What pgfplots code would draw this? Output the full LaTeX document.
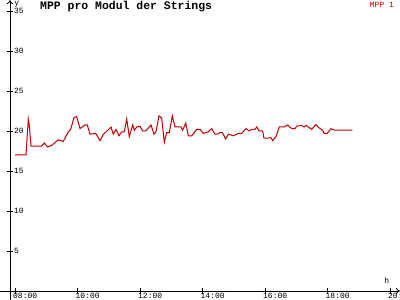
\documentclass[border=0pt]{standalone}
\usepackage{pgfplots}
\pgfplotsset{compat=1.18}
\usetikzlibrary{arrows.meta}
\usepackage{fontspec}
\setmainfont{Liberation Mono}
\setmonofont{Liberation Mono}
\definecolor{mppred}{RGB}{192,0,0}
\begin{document}
\begin{tikzpicture}
\begin{axis}[
  scale only axis, width=400bp, height=300bp,
  axis lines=middle,
  axis line style={line width=0.8bp, -{To[length=4bp,width=6bp]}},
  xmin=-0.32, xmax=12.48, ymin=-1.125, ymax=36.375,
  xtick={0.16,2.16,4.16,6.16,8.16,10.16,12.16},
  xticklabels={08:00,10:00,12:00,14:00,16:00,18:00,20:00},
  ytick={5,10,15,20,25,30,35},
  yticklabels={5,10,15,20,25,30,35},
  /pgf/number format/assume math mode=true,
  tick align=center, major tick length=6bp,
  tick style={black, line width=0.8bp},
  tick label style={font=\fontsize{8}{8}\selectfont},
  xticklabel style={anchor=north west, xshift=-3bp, yshift=2bp, inner sep=1bp},
  yticklabel style={anchor=west, xshift=6bp, inner sep=1bp},
  clip=false,
]
\coordinate (sw) at (rel axis cs:0,0);
\coordinate (ne) at (rel axis cs:1,1);
\addplot[mppred, line width=1bp, mark=none] table[x expr=\thisrowno{0}-7.84, y index=1] {
8.0 17.0
8.352 17.0
8.426 21.5
8.458 20.75
8.512 18.1
8.854 18.1
8.938 18.5
9.046 18.0
9.174 18.2
9.386 18.9
9.546 18.7
9.706 19.9
9.782 20.2
9.888 21.7
9.974 21.8
10.08 20.3
10.24 20.75
10.314 20.75
10.40 19.6
10.582 19.7
10.72 18.8
10.826 19.6
10.944 20.0
11.072 20.5
11.146 19.6
11.232 20.2
11.328 19.4
11.414 19.9
11.498 19.9
11.574 21.5
11.658 19.3
11.766 20.75
11.818 20.1
11.894 20.5
12.0 20.6
12.086 20.0
12.182 20.0
12.352 20.75
12.448 19.6
12.512 19.9
12.608 21.9
12.694 21.6
12.778 18.6
12.854 19.8
12.938 19.8
13.034 21.9
13.12 20.5
13.312 20.5
13.366 20.1
13.462 21.0
13.546 19.4
13.654 19.4
13.814 20.2
13.92 20.2
14.026 19.7
14.186 19.9
14.294 20.3
14.40 19.6
14.474 19.6
14.56 19.8
14.634 19.8
14.742 19.0
14.826 19.6
14.912 19.5
14.986 19.4
15.146 19.7
15.254 19.7
15.392 20.3
15.488 20.0
15.574 20.2
15.68 20.2
15.734 20.5
15.818 20.0
15.926 20.0
15.968 19.1
16.106 19.1
16.182 19.2
16.246 18.8
16.352 19.3
16.458 20.5
16.618 20.5
16.726 20.75
16.854 20.3
16.96 20.3
17.014 20.6
17.174 20.7
17.248 20.5
17.312 20.7
17.386 20.5
17.494 20.2
17.622 20.8
17.728 20.4
17.846 20.1
17.888 19.7
17.994 19.7
18.112 20.3
18.218 20.1
18.326 20.1
18.794 20.1
};
\node[anchor=west, font=\fontsize{11.5}{11.5}\selectfont\bfseries, inner sep=0pt] at (axis cs:0.96,35.5) {MPP pro Modul der Strings};
\node[anchor=east, font=\fontsize{8}{8}\selectfont, text=mppred, inner sep=0pt] at (axis cs:12.29,35.8) {MPP 1};
\node[font=\fontsize{8}{8}\selectfont, inner sep=0pt] at (axis cs:12.06,1.3) {h};
\node[font=\fontsize{8}{8}\selectfont, inner sep=0pt, anchor=north west] at (axis cs:0.13,36.3) {y};
\end{axis}
\pgfresetboundingbox
\path (sw) rectangle (ne);
\end{tikzpicture}
\end{document}
